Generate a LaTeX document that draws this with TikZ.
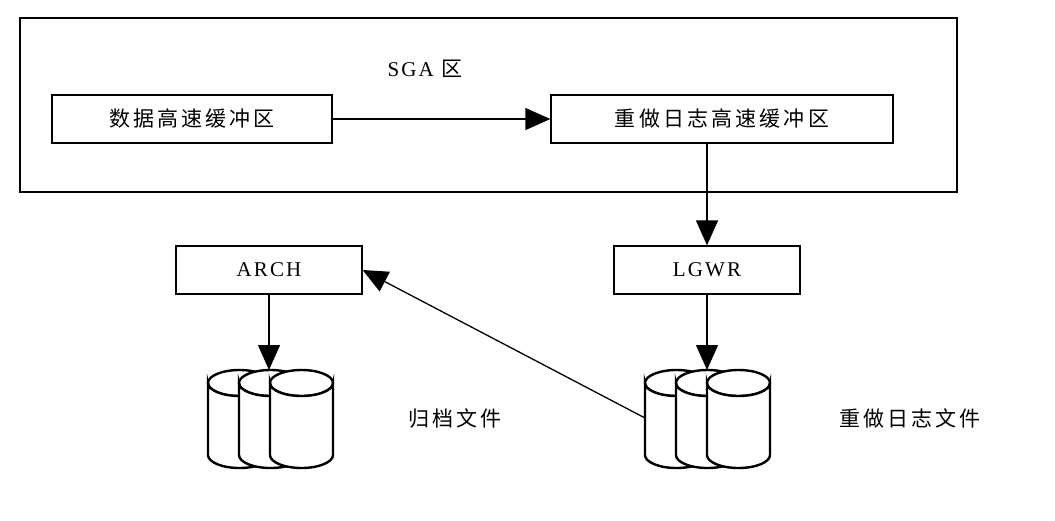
\documentclass[tikz,border=0pt]{standalone}
\usepackage{fontspec}
\setmainfont{Liberation Serif}[LetterSpace=10]
\newfontfamily\cjk{Noto Sans CJK SC}[LetterSpace=15]
\usetikzlibrary{arrows.meta}
\newcommand\mycyl[2]{%
  \filldraw[cyl] (#1,383) ellipse [x radius=31.5,y radius=13];
  \filldraw[cyl] (#1-31.5,383) -- (#1-31.5,455) arc[start angle=180,end angle=0,x radius=31.5,y radius=13] -- (#1+31.5,383) arc[start angle=0,end angle=180,x radius=31.5,y radius=13] -- cycle;
  \coordinate (#2) at (#1,370);}
\begin{document}
\begin{tikzpicture}[x=1pt,y=-1pt,
  box/.style={draw,line width=1.3pt,minimum height=48pt,inner sep=0pt,font=\fontsize{21}{24}\selectfont},
  lbl/.style={font=\fontsize{21}{24}\selectfont},
  cyl/.style={draw,fill=white,line width=2.4pt},
  arr/.style={line width=1.3pt,-{Triangle[length=25pt,width=22pt]}}]
\useasboundingbox (0,0) rectangle (1055,520);
\draw[line width=1.3pt] (20,18) rectangle (957,192);
\node[lbl] (sga) at (425,69) {SGA {\cjk 区}};
\node[box,minimum width=280pt] (data) at (192,119) {\cjk 数据高速缓冲区};
\node[box,minimum width=342pt] (redo) at (722,119) {\cjk 重做日志高速缓冲区};
\node[box,minimum width=186pt] (arch) at (269,270) {ARCH};
\node[box,minimum width=186pt] (lgwr) at (707,270) {LGWR};
\mycyl{239.5}{a1}\mycyl{270.5}{a2}\mycyl{301.5}{a3}
\mycyl{676.5}{r1}\mycyl{707.5}{r2}\mycyl{738.5}{r3}
\coordinate (rl) at (645,418);
\coordinate (rs) at (707,142);
\coordinate (ai) at (269,370);
\coordinate (li) at (707,370);
\node[lbl] (af) at (455,418) {\cjk 归档文件};
\node[lbl] (rf) at (910,418) {\cjk 重做日志文件};
\draw[arr] (data) -- (redo);
\draw[arr] (rs) -- (lgwr.north);
\draw[arr] (arch.south) -- (ai);
\draw[arr] (lgwr.south) -- (li);
\draw[arr] (rl) -- (arch.east);
\end{tikzpicture}
\end{document}
